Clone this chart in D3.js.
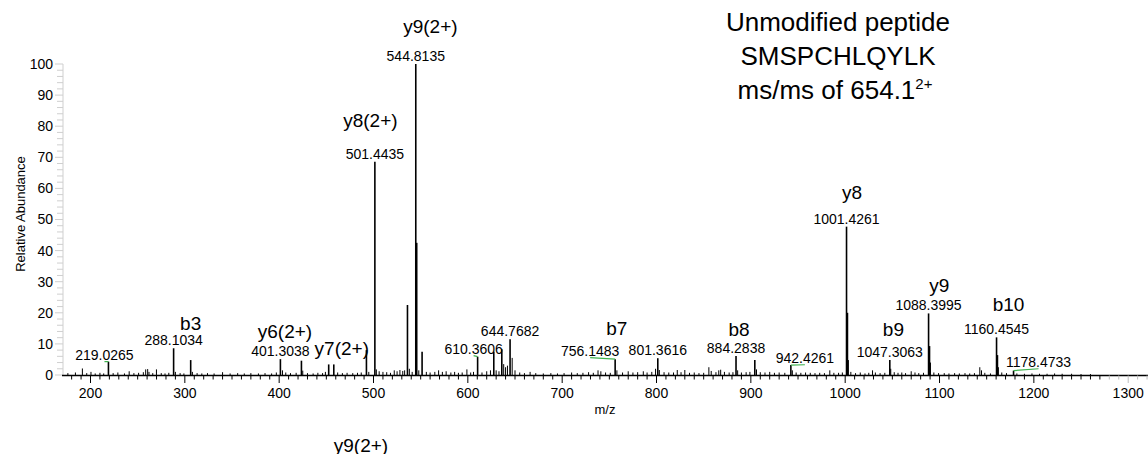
<!DOCTYPE html>
<html>
<head>
<meta charset="utf-8">
<script src="https://cdn.jsdelivr.net/npm/d3@7"></script>
<style>
  body { margin: 0; background: #fff; }
  svg text { font-family: "Liberation Sans", Arial, sans-serif; fill: #000; }
</style>
</head>
<body>
<div id="chart"></div>
<script>
// labeled peaks (m/z, relative abundance)
var labeledMz  = [219.0265, 288.1034, 401.3038, 501.4435, 544.8135, 610.3606, 644.7682, 756.1483,
                  801.3616, 884.2838, 942.4261, 1001.4261, 1047.3063, 1088.3995, 1160.4545, 1178.4733];
var labeledInt = [4.3, 8.6, 5.1, 68.6, 100, 5.9, 11.5, 5.1,
                  5.4, 6.1, 3.2, 47.7, 4.8, 19.8, 12.1, 1.4];

// other visible peaks without a label
var otherMz  = [306.2, 423.6, 452.5, 457.9, 492.5, 536.0, 545.8, 551.5, 627.5, 636.0,
                904.2, 1002.4, 1089.4, 1161.4];
var otherInt = [4.8, 4.6, 3.4, 3.4, 8.0, 22.5, 42.5, 7.5, 7.5, 8.3,
                4.8, 20.0, 9.3, 6.4];

// small background peaks
var noise = [
  [176,0.6],[184,0.8],[191.4,2.1],[196,0.6],[200.5,1.0],[205,0.5],[210,0.7],[214,0.5],[224,0.6],[229,0.8],
  [236,0.5],[241,1.2],[246,0.6],[251,0.7],[256,0.9],[258.5,1.8],[260.6,1.9],[262,1.0],[266,0.6],[269.9,1.8],
  [275,0.6],[279,0.5],[283,0.7],[290,1.0],[295,0.6],[299,0.5],[308,1.0],[313,0.6],[318,0.5],[324,0.6],
  [331,0.5],[340,0.9],[348,0.5],[356,0.6],[363,0.5],[370,0.6],[378,0.5],[385,0.6],[392,0.5],[397,0.8],
  [403.5,1.5],[407,0.8],[412,0.6],[418,0.7],[425,1.4],[430,0.6],[436,0.5],[441,0.7],[446,0.6],[449,1.0],
  [462,0.8],[467,0.6],[472,0.7],[478,0.6],[483,0.7],[487,0.8],[495,1.0],[503,1.8],[506,1.2],[510,1.0],
  [514,0.9],[518,0.7],[522,1.5],[525,1.2],[528,1.6],[531,1.3],[533,1.5],[538,2.0],[541,1.0],[548,1.5],
  [556,1.0],[560,0.8],[565,1.0],[569,1.5],[573,1.0],[577,1.2],[582,0.8],[586,1.0],[590,0.7],[594,0.8],
  [599,1.8],[603,0.8],[606,1.0],[615,0.8],[620,1.2],[624,1.5],[630,1.5],[633,1.2],[638,3.5],[640,2.5],
  [642,3.0],[647,5.5],[650,1.5],[655,0.8],[660,0.6],[666,1.0],[672,0.6],[680,0.5],[688,0.6],[695,0.5],
  [702,0.6],[710,0.8],[716,0.6],[722,0.7],[728,0.9],[733,0.7],[738,1.5],[741,1.2],[746,0.8],[751,0.7],
  [758,1.5],[764,0.8],[770,1.2],[775,0.8],[780,0.9],[786,1.2],[790,0.8],[795,1.0],[799,2.0],[803,1.6],
  [808,0.9],[813,0.8],[818,0.8],[822,1.6],[826,0.9],[830,1.6],[835,0.7],[840,0.8],[845,0.6],[850,0.7],
  [855.5,2.5],[858,1.3],[863,0.9],[866,1.5],[868,1.7],[872,1.0],[877,0.8],[881,0.9],[886,1.5],[890,0.8],
  [895,0.9],[899,1.0],[906,1.8],[910,0.9],[915,0.8],[920,1.0],[925,0.7],[930,0.8],[936,0.7],[944,1.5],
  [948,0.8],[953,0.7],[958,0.8],[963,0.7],[968,0.6],[973,0.7],[978,0.6],[983.7,1.5],[988,0.7],[993,0.7],
  [997,0.8],[1003.4,4.8],[1006,1.0],[1011,0.6],[1016,0.8],[1021,0.5],[1025,0.7],[1029,1.5],[1032,0.8],[1037,0.6],
  [1042,0.7],[1048.3,2.0],[1052,0.9],[1056,0.7],[1060,0.8],[1064,0.6],[1070,1.2],[1074,0.8],[1078,0.6],[1083,0.7],
  [1090.4,4.0],[1094,0.8],[1099,0.6],[1105,0.6],[1110,0.5],[1116,0.6],[1121,0.5],[1127,0.6],[1132,0.5],[1137,0.6],
  [1142.7,2.5],[1144.5,1.5],[1148,0.7],[1154,0.5],[1162.4,2.5],[1166,0.8],[1171,0.6],[1182,0.5],[1190,0.4],[1198,0.5],
  [1206,0.4],[1214,0.4],[1222,0.5],[1230,0.4],[1240,0.4],[1250,0.3],[1260,0.3]
];

// fragment ion annotations
var ionNames = ["b3", "y6(2+)", "y7(2+)", "y8(2+)", "y9(2+)", "b7", "b8", "y8", "b9", "y9", "b10"];
var ionMz    = [306.2, 401.3038, 457.9, 501.4435, 544.8135, 756.1483, 884.2838, 1001.4261, 1047.3063, 1088.3995, 1160.4545];

var titleLines = ["Unmodified peptide", "SMSPCHLQYLK", "ms/ms of 654.1"];
var yTicks = [0, 10, 20, 30, 40, 50, 60, 70, 80, 90, 100];
var xTicks = [200, 300, 400, 500, 600, 700, 800, 900, 1000, 1100, 1200, 1300];

var W = 1148, H = 454;
var svg = d3.select("#chart").append("svg").attr("width", W).attr("height", H);

var x = d3.scaleLinear().domain([170, 1321]).range([62.2, 1148]);
var y = d3.scaleLinear().domain([0, 100]).range([375, 64]);

// y axis (light gray)
var yAxis = svg.append("g");
yAxis.append("line").attr("x1", 63).attr("x2", 63).attr("y1", y(100)).attr("y2", y(0))
  .attr("stroke", "#cfcfcf").attr("stroke-width", 1);
yAxis.selectAll("line.minor").data(d3.range(0, 101, 2)).enter().append("line")
  .attr("class", "minor")
  .attr("x1", function(d){ return d % 10 == 0 ? 55 : 57; }).attr("x2", 63)
  .attr("y1", function(d){ return y(d); }).attr("y2", function(d){ return y(d); })
  .attr("stroke", "#cfcfcf").attr("stroke-width", 1);
yAxis.selectAll("text").data(yTicks).enter().append("text")
  .attr("x", 53).attr("y", function(d){ return y(d); }).attr("dy", "0.35em")
  .attr("text-anchor", "end").attr("font-size", 14).text(function(d){ return d; });

svg.append("text")
  .attr("transform", "translate(25,214) rotate(-90)")
  .attr("text-anchor", "middle").attr("font-size", 13).text("Relative Abundance");

// peaks
var allPeaks = [];
noise.forEach(function(p){ allPeaks.push({mz: p[0], v: p[1], w: 1}); });
otherMz.forEach(function(m, i){ allPeaks.push({mz: m, v: otherInt[i], w: 1.6}); });
labeledMz.forEach(function(m, i){ allPeaks.push({mz: m, v: labeledInt[i], w: 1.6}); });

svg.append("g").selectAll("line").data(allPeaks).enter().append("line")
  .attr("x1", function(d){ return x(d.mz); }).attr("x2", function(d){ return x(d.mz); })
  .attr("y1", y(0)).attr("y2", function(d){ return y(d.v); })
  .attr("stroke", "#000").attr("stroke-width", function(d){ return d.w; });

// x axis
var xAxis = svg.append("g");
xAxis.append("line").attr("x1", 62).attr("x2", W).attr("y1", 375.5).attr("y2", 375.5)
  .attr("stroke", "#000").attr("stroke-width", 1.5);
xAxis.selectAll("line.tick").data(d3.range(180, 1321, 10)).enter().append("line")
  .attr("class", "tick")
  .attr("x1", function(d){ return x(d); }).attr("x2", function(d){ return x(d); })
  .attr("y1", 375.5).attr("y2", function(d){ return d % 100 == 0 ? 383 : 379.5; })
  .attr("stroke", function(d){ return d <= 1275 ? "#000" : "#bdbdbd"; })
  .attr("stroke-width", 1);
xAxis.selectAll("text").data(xTicks).enter().append("text")
  .attr("x", function(d){ return x(d); }).attr("y", 398)
  .attr("text-anchor", "middle").attr("font-size", 14).text(function(d){ return d; });
svg.append("text").attr("x", 605).attr("y", 414).attr("text-anchor", "middle")
  .attr("font-size", 13).text("m/z");

// m/z labels: offsets [dx, dy above peak top]; leader = green line to the peak
var labelLayout = {
  "219.0265": [-4, 1.5, true], "610.3606": [-4, 2.5, true], "756.1483": [-25, 3, true],
  "942.4261": [14, 1.8, true], "1178.4733": [25, 3.4, true]
};
var labels = labeledMz.map(function(m, i){
  var t = m.toFixed(4);
  var lay = labelLayout[t] || [0, 3, false];
  return {text: t, px: x(m), py: y(labeledInt[i]), lx: x(m) + lay[0], ly: y(labeledInt[i]) - lay[1], lead: lay[2]};
});
svg.append("g").selectAll("line").data(labels.filter(function(d){ return d.lead; })).enter().append("line")
  .attr("x1", function(d){ return d.px; }).attr("y1", function(d){ return d.py; })
  .attr("x2", function(d){ return d.lx; }).attr("y2", function(d){ return d.ly + 1.5; })
  .attr("stroke", "#3fb34f").attr("stroke-width", 1.2);
svg.append("g").selectAll("text").data(labels).enter().append("text")
  .attr("x", function(d){ return d.lx; }).attr("y", function(d){ return d.ly; })
  .attr("text-anchor", "middle").attr("font-size", 14).text(function(d){ return d.text; });

// ion labels: [dx, dy above peak top]
var ionLayout = {
  "b3": [0, 30], "y6(2+)": [4.6, 21.6], "y7(2+)": [8, 9.6], "y8(2+)": [-4.5, 35], "y9(2+)": [14.6, 31],
  "b7": [1.7, 24.5], "b8": [3, 20.4], "y8": [5.6, 28], "b9": [3.6, 24.5], "y9": [10.6, 21.4], "b10": [12, 26.8]
};
function peakHeight(m){
  var best = allPeaks[0];
  allPeaks.forEach(function(p){ if(Math.abs(p.mz - m) < Math.abs(best.mz - m)) best = p; });
  return best.v;
}
svg.append("g").selectAll("text").data(ionNames).enter().append("text")
  .attr("x", function(d, i){ return x(ionMz[i]) + ionLayout[d][0]; })
  .attr("y", function(d, i){ return y(peakHeight(ionMz[i])) - ionLayout[d][1]; })
  .attr("text-anchor", "middle").attr("font-size", 19).text(function(d){ return d; });

// title
var title = svg.append("g").attr("font-size", 26);
title.append("text").attr("x", 838).attr("y", 31).attr("text-anchor", "middle").text(titleLines[0]);
title.append("text").attr("x", 838).attr("y", 65).attr("text-anchor", "middle").text(titleLines[1]);
var t3 = title.append("text").attr("x", 835).attr("y", 99).attr("text-anchor", "middle");
t3.append("tspan").text(titleLines[2]);
t3.append("tspan").attr("font-size", 15).attr("dy", -10).text("2+");

// stray label below the chart (cut by the bottom edge in the original too)
svg.append("text").attr("x", 361).attr("y", 452).attr("text-anchor", "middle")
  .attr("font-size", 19).text("y9(2+)");
</script>
</body>
</html>
